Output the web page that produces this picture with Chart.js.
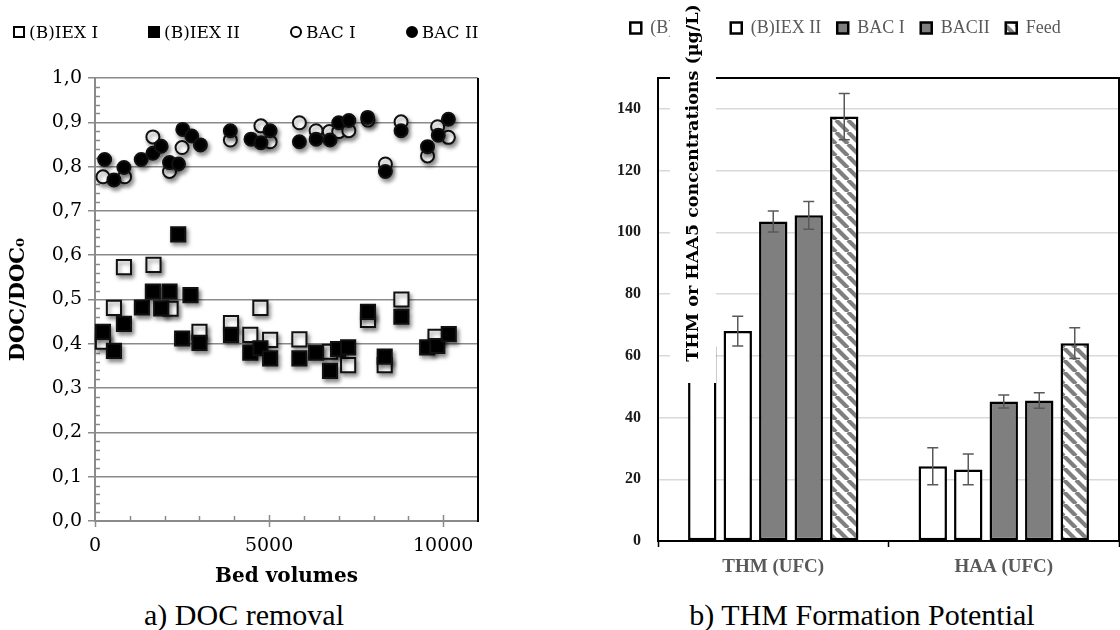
<!DOCTYPE html>
<html>
<head>
<meta charset="utf-8">
<script src="https://cdn.jsdelivr.net/npm/chart.js@4.4.0/dist/chart.umd.min.js"></script>
<style>
  body { margin: 0; background: #fff; }
  #page { position: relative; width: 1120px; height: 630px; overflow: hidden; background: #fff; }
  #docCanvas { position: absolute; left: 0; top: 0; }
  #thmCanvas { position: absolute; left: 560px; top: 0; }
  #docLegend {
    position: absolute; left: 13px; top: 22px; display: flex; gap: 50px;
    font-family: 'DejaVu Serif', serif; font-size: 17px; color: #000; white-space: nowrap;
  }
  #docLegend .item { display: flex; align-items: center; gap: 4px; }
  #docLegend .mk { width: 8px; height: 8px; border: 2px solid #000; background: #fff; display: inline-block; }
  #docLegend .mk.filled { background: #000; }
  #docLegend .mk.circle { border-radius: 50%; }
  .caption {
    position: absolute; top: 600px; font-family: 'Liberation Serif', 'Times New Roman', serif;
    font-size: 30px; line-height: 30px; white-space: nowrap; transform: translateX(-50%); color: #000;
  }
</style>
</head>
<body>
<div id="page">
  <canvas id="docCanvas" width="500" height="591"></canvas>
  <div id="docLegend"></div>
  <canvas id="thmCanvas" width="560" height="591"></canvas>
  <div class="caption" style="left:244px">a) DOC removal</div>
  <div class="caption" style="left:862px">b) THM Formation Potential</div>
</div>
<script>
// ---- a) DOC removal (values read off the figure) ----
const docSeries = ['(B)IEX I', '(B)IEX II', 'BAC I', 'BAC II'];

const bvIEX1 = [229, 544, 831, 1680, 2170, 3000, 3906, 4460, 4750, 5030, 5870, 6750, 7270, 7840, 8320, 8800, 9780];
const docIEX1 = [0.405, 0.481, 0.573, 0.578, 0.479, 0.427, 0.447, 0.420, 0.481, 0.409, 0.410, 0.382, 0.352, 0.454, 0.352, 0.500, 0.416];

const bvIEX2 = [229, 544, 831, 1347, 1662, 1900, 2140, 2390, 2502, 2742, 3000, 3906, 4460, 4750, 5030, 5870, 6350, 6750, 6980, 7270, 7840, 8320, 8800, 9540, 9830, 10160];
const docIEX2 = [0.427, 0.384, 0.445, 0.482, 0.518, 0.480, 0.518, 0.647, 0.412, 0.510, 0.402, 0.420, 0.380, 0.390, 0.367, 0.367, 0.380, 0.339, 0.388, 0.392, 0.472, 0.371, 0.461, 0.392, 0.395, 0.422];

const bvBAC1 = [229, 850, 1662, 2140, 2500, 3887, 4765, 5030, 5870, 6350, 6730, 7000, 7290, 7840, 8340, 8790, 9550, 9840, 10150];
const docBAC1 = [0.777, 0.777, 0.867, 0.789, 0.843, 0.860, 0.892, 0.856, 0.899, 0.881, 0.879, 0.879, 0.881, 0.905, 0.806, 0.901, 0.824, 0.890, 0.866];

const bvBAC2 = [277, 544, 831, 1327, 1662, 1900, 2140, 2398, 2521, 2779, 3028, 3887, 4480, 4765, 5030, 5870, 6350, 6750, 7000, 7290, 7830, 8340, 8790, 9550, 9860, 10150];
const docBAC2 = [0.816, 0.770, 0.798, 0.816, 0.830, 0.846, 0.809, 0.806, 0.884, 0.869, 0.849, 0.881, 0.862, 0.854, 0.881, 0.856, 0.862, 0.860, 0.899, 0.904, 0.911, 0.789, 0.881, 0.845, 0.871, 0.907];

// ---- b) THM formation potential ----
const groups = ['THM (UFC)', 'HAA (UFC)'];
const barNames = ['(B)IEX I', '(B)IEX II', 'BAC I', 'BACII', 'Feed'];
const concIEX1 = [63, 24.2];
const concIEX2 = [68, 23.2];
const concBAC1 = [103.5, 45.2];
const concBAC2 = [105.5, 45.5];
const concFeed = [137.5, 64.1];
const errIEX1 = [5, 6];
const errIEX2 = [4.8, 5];
const errBAC1 = [3.4, 2.1];
const errBAC2 = [4.5, 2.5];
const errFeed = [7.5, 5];

Chart.defaults.animation = false;
Chart.defaults.font.family = "'DejaVu Serif', serif";
Chart.defaults.color = '#000';

const pts = (xs, ys) => xs.map((x, i) => ({ x, y: ys[i] }));
const isMajorY = v => Math.abs(v * 10 - Math.round(v * 10)) < 1e-6;
const isMajorX = v => v % 5000 === 0;
const AXIS_GREY = '#8a8a8a';

// excel-ish drop shadow under the markers
const markerShadow = {
    id: 'markerShadow',
    beforeDatasetsDraw(chart) {
        const ctx = chart.ctx;
        ctx.save();
        ctx.shadowColor = 'rgba(0,0,0,0.45)';
        ctx.shadowBlur = 4;
        ctx.shadowOffsetX = 2;
        ctx.shadowOffsetY = 3;
    },
    afterDatasetsDraw(chart) {
        chart.ctx.restore();
    }
};

// inner minor tick marks + black right edge
const minorTicks = {
    id: 'minorTicks',
    beforeDatasetsDraw(chart) {
        const { ctx, chartArea: a, scales: { x, y } } = chart;
        ctx.save();
        ctx.strokeStyle = AXIS_GREY;
        ctx.lineWidth = 1.5;
        ctx.beginPath();
        y.ticks.forEach(t => {
            if (isMajorY(t.value)) return;
            const p = Math.round(y.getPixelForValue(t.value)) + 0.5;
            ctx.moveTo(a.left, p);
            ctx.lineTo(a.left + 5, p);
        });
        x.ticks.forEach(t => {
            if (t.value >= x.max || t.value === 0) return;
            const p = Math.round(x.getPixelForValue(t.value)) + 0.5;
            ctx.moveTo(p, a.bottom);
            ctx.lineTo(p, a.bottom - (isMajorX(t.value) ? 6 : 5));
        });
        ctx.stroke();
        ctx.strokeStyle = '#000';
        ctx.lineWidth = 2;
        ctx.beginPath();
        ctx.moveTo(a.right, a.top);
        ctx.lineTo(a.right, a.bottom + 1);
        ctx.stroke();
        ctx.restore();
    }
};

const docStyles = [
    { data: pts(bvIEX1, docIEX1), pointStyle: 'rect', pointRadius: 10, backgroundColor: '#fff', order: 4 },
    { data: pts(bvIEX2, docIEX2), pointStyle: 'rect', pointRadius: 10, backgroundColor: '#000', order: 3 },
    { data: pts(bvBAC1, docBAC1), pointStyle: 'circle', pointRadius: 6.5, backgroundColor: '#fff', order: 2 },
    { data: pts(bvBAC2, docBAC2), pointStyle: 'circle', pointRadius: 6.5, backgroundColor: '#000', order: 1 }
];

new Chart(document.getElementById('docCanvas'), {
    type: 'scatter',
    data: {
        datasets: docSeries.map((name, i) => ({
            label: name,
            ...docStyles[i],
            borderColor: '#111',
            borderWidth: 2,
            clip: false
        }))
    },
    options: {
        responsive: false,
        layout: { padding: { top: 78, right: 22, bottom: 0, left: 0 } },
        scales: {
            x: {
                type: 'linear',
                min: 0,
                max: 11000,
                afterFit: s => { s.height = 70; },
                grid: {
                    drawOnChartArea: false,
                    tickLength: 6,
                    tickWidth: 1.5,
                    tickColor: c => (c.tick && isMajorX(c.tick.value) && c.tick.value < 11000) ? AXIS_GREY : 'rgba(0,0,0,0)'
                },
                border: { color: AXIS_GREY, width: 2 },
                ticks: {
                    stepSize: 1000,
                    autoSkip: false,
                    maxRotation: 0,
                    padding: 8,
                    font: { size: 19 },
                    callback: v => (isMajorX(v) && v <= 10000) ? String(v) : ''
                },
                title: {
                    display: true,
                    text: 'Bed volumes',
                    font: { size: 20, weight: 'bold' },
                    padding: { top: 0, bottom: 2 }
                }
            },
            y: {
                min: 0,
                max: 1,
                afterFit: s => { s.width = 95; },
                grid: {
                    color: c => (c.tick && isMajorY(c.tick.value)) ? AXIS_GREY : 'rgba(0,0,0,0)',
                    lineWidth: 1.5,
                    tickLength: 7,
                    tickColor: c => (c.tick && isMajorY(c.tick.value)) ? AXIS_GREY : 'rgba(0,0,0,0)'
                },
                border: { color: AXIS_GREY, width: 2 },
                ticks: {
                    stepSize: 0.02,
                    autoSkip: false,
                    padding: 6,
                    font: { size: 19 },
                    callback: v => isMajorY(v) ? v.toFixed(1).replace('.', ',') : ''
                },
                title: {
                    display: true,
                    text: 'DOC/DOC\u2080',
                    font: { size: 21, weight: 'bold' },
                    padding: { top: 6, bottom: 4 }
                }
            }
        },
        plugins: {
            legend: { display: false },
            tooltip: { enabled: false }
        }
    },
    plugins: [minorTicks, markerShadow]
});

// html legend for panel a
const legendBox = document.getElementById('docLegend');
const markerClass = ['', 'filled', 'circle', 'circle filled'];
docSeries.forEach((name, i) => {
    const item = document.createElement('span');
    item.className = 'item';
    const mk = document.createElement('span');
    mk.className = 'mk ' + markerClass[i];
    const txt = document.createElement('span');
    txt.textContent = name;
    item.appendChild(mk);
    item.appendChild(txt);
    legendBox.appendChild(item);
});

// ---- panel b ----
function stripePattern() {
    const s = 12;
    const c = document.createElement('canvas');
    c.width = s;
    c.height = s;
    const g = c.getContext('2d');
    g.fillStyle = '#fff';
    g.fillRect(0, 0, s, s);
    g.strokeStyle = '#7f7f7f';
    g.lineWidth = 4.2;
    g.beginPath();
    for (let k = -1; k <= 1; k++) {
        g.moveTo(k * s, 0);
        g.lineTo(k * s + s, s);
    }
    g.stroke();
    return g.createPattern(c, 'repeat');
}

const barValues = [concIEX1, concIEX2, concBAC1, concBAC2, concFeed];
const barErrors = [errIEX1, errIEX2, errBAC1, errBAC2, errFeed];
const barFills = ['#fff', '#fff', '#7f7f7f', '#7f7f7f', stripePattern()];

const errorBars = {
    id: 'errorBars',
    afterDatasetsDraw(chart) {
        const { ctx, scales: { y } } = chart;
        ctx.save();
        ctx.strokeStyle = '#595959';
        ctx.lineWidth = 1.5;
        chart.data.datasets.forEach((ds, i) => {
            chart.getDatasetMeta(i).data.forEach((bar, j) => {
                const hi = y.getPixelForValue(ds.data[j] + ds.errors[j]);
                const lo = y.getPixelForValue(ds.data[j] - ds.errors[j]);
                ctx.beginPath();
                ctx.moveTo(bar.x, hi); ctx.lineTo(bar.x, lo);
                ctx.moveTo(bar.x - 5.5, hi); ctx.lineTo(bar.x + 5.5, hi);
                ctx.moveTo(bar.x - 5.5, lo); ctx.lineTo(bar.x + 5.5, lo);
                ctx.stroke();
            });
        });
        ctx.restore();
    }
};

const plotFrame = {
    id: 'plotFrame',
    beforeDatasetsDraw(chart) {
        const { ctx, chartArea: a } = chart;
        ctx.save();
        ctx.strokeStyle = '#000';
        ctx.lineWidth = 2;
        ctx.strokeRect(a.left, a.top, a.right - a.left, a.bottom - a.top);
        ctx.restore();
    }
};

// the axis title sits on a white box over the plot, as in the original
const yTitleBox = {
    id: 'yTitleBox',
    afterDraw(chart) {
        const { ctx, chartArea: a } = chart;
        const left = a.left + 12, width = 46, bottom = a.bottom - 158;
        ctx.save();
        ctx.fillStyle = '#fff';
        ctx.fillRect(left, 0, width, bottom);
        ctx.translate(left + width / 2, 183);
        ctx.rotate(-Math.PI / 2);
        ctx.fillStyle = '#000';
        ctx.font = "bold 17.5px 'DejaVu Serif'";
        ctx.textAlign = 'center';
        ctx.textBaseline = 'middle';
        ctx.fillText('THM or HAA5 concentrations (\u00b5g/L)', 0, 0);
        ctx.restore();
    }
};

const legendHeight = {
    id: 'legendHeight',
    beforeInit(chart) {
        const fit = chart.legend.fit;
        chart.legend.fit = function () {
            fit.call(this);
            this.height = 75;
        };
    }
};

new Chart(document.getElementById('thmCanvas'), {
    type: 'bar',
    data: {
        labels: groups,
        datasets: barNames.map((name, i) => ({
            label: name,
            data: barValues[i],
            errors: barErrors[i],
            backgroundColor: barFills[i],
            borderColor: '#000',
            borderWidth: 2.5,
            borderSkipped: false,
            barPercentage: 0.8,
            categoryPercentage: 0.77
        }))
    },
    options: {
        responsive: false,
        layout: { padding: { top: 3, right: 1, bottom: 0, left: 12 } },
        scales: {
            x: {
                afterFit: s => { s.height = 50; },
                grid: { offset: true, drawOnChartArea: false, tickLength: 6, tickWidth: 1.5, tickColor: '#000' },
                border: { color: '#000', width: 2 },
                ticks: {
                    padding: 9,
                    color: '#595959',
                    font: { family: "'Liberation Serif', serif", size: 19, weight: 'bold' }
                }
            },
            y: {
                min: 0,
                max: 150,
                afterFit: s => { s.width = 86; },
                grid: {
                    drawTicks: false,
                    lineWidth: 1.5,
                    color: c => (c.tick && c.tick.value > 0 && c.tick.value < 150) ? '#d9d9d9' : 'rgba(0,0,0,0)'
                },
                border: { color: '#000', width: 2 },
                ticks: {
                    stepSize: 20,
                    padding: 17,
                    color: '#1a1a1a',
                    font: { family: "'Liberation Serif', serif", size: 16, weight: 'bold' },
                    callback: v => v % 20 === 0 ? v : ''
                }
            }
        },
        plugins: {
            legend: {
                position: 'top',
                labels: {
                    boxWidth: 11,
                    boxHeight: 11,
                    padding: 16,
                    color: '#595959',
                    font: { family: "'Liberation Serif', serif", size: 18 }
                }
            },
            tooltip: { enabled: false }
        }
    },
    plugins: [legendHeight, plotFrame, errorBars, yTitleBox]
});
</script>
</body>
</html>
